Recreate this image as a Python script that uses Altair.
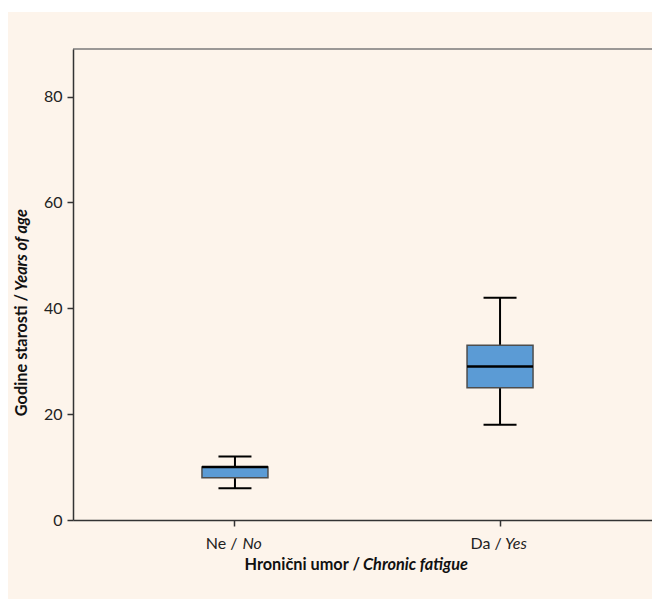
import altair as alt
import pandas as pd

categories = ["Ne", "Da"]
labels_normal = ["Ne /", "Da /"]
labels_italic = ["No", "Yes"]
label_dx_normal = [2.5, 1.7]
label_dx_italic = [7.5, 5.0]
whisker_low = [6, 18]
q1 = [8, 25]
median = [10, 29]
q3 = [10, 33]
whisker_high = [12, 42]
y_ticks = [0, 20, 40, 60, 80]

df = pd.DataFrame({
    "cat": categories,
    "lo": whisker_low,
    "q1": q1,
    "med": median,
    "q3": q3,
    "hi": whisker_high,
    "ln": labels_normal,
    "li": labels_italic,
})

FONT = "Lato"
W, H = 579, 471
RANGE_W = 589

xenc = alt.X(
    "cat:N",
    sort=categories,
    scale=alt.Scale(paddingInner=0, paddingOuter=0.111, range=[0, RANGE_W]),
    axis=alt.Axis(labels=False, title=None, tickSize=6, tickColor="#333",
                  domainColor="#333", domainWidth=1.5, tickWidth=1.5, zindex=1),
)
yscale = alt.Scale(domain=[0, 89], nice=False, zero=True)
yenc_lo = alt.Y(
    "lo:Q",
    scale=yscale,
    axis=alt.Axis(values=y_ticks, title=None, grid=False, tickSize=6,
                  tickColor="#333", tickWidth=1.5, domainColor="#333",
                  domainWidth=1.5, labelFont=FONT, labelFontSize=16,
                  labelColor="#222", labelPadding=5, zindex=1),
)

base = alt.Chart(df)

title_df = pd.DataFrame({"t": ["x"]})
tb = alt.Chart(title_df)

bg = tb.mark_rect(color="#fdf4eb").encode(
    x=alt.value(-65), x2=alt.value(RANGE_W), y=alt.value(-37), y2=alt.value(560)
)
top_line = tb.mark_rule(color="#7a7a7a", strokeWidth=1.5).encode(
    x=alt.value(0), x2=alt.value(RANGE_W), y=alt.value(0)
)

whisker = base.mark_rule(color="black", strokeWidth=2).encode(
    x=xenc, y=yenc_lo, y2="hi:Q"
)
cap_lo = base.mark_tick(color="black", thickness=2, size=33, opacity=1).encode(
    x=xenc, y=alt.Y("lo:Q", scale=yscale)
)
cap_hi = base.mark_tick(color="black", thickness=2, size=33, opacity=1).encode(
    x=xenc, y=alt.Y("hi:Q", scale=yscale)
)
box = base.mark_bar(size=66, fill="#5b9bd5", stroke="#4d4d4d", strokeWidth=1.5).encode(
    x=xenc, y=alt.Y("q1:Q", scale=yscale), y2="q3:Q"
)
med = base.mark_tick(color="black", thickness=2.5, size=66, opacity=1).encode(
    x=xenc, y=alt.Y("med:Q", scale=yscale)
)

layers = [bg, top_line, whisker, cap_lo, cap_hi, box, med]

for i, c in enumerate(categories):
    sub = base.transform_filter(alt.datum.cat == c)
    layers.append(
        sub.mark_text(font=FONT, fontSize=16, color="#222", align="right",
                      baseline="alphabetic", dx=label_dx_normal[i]).encode(
            x=xenc, y=alt.value(500), text="ln:N"
        )
    )
    layers.append(
        sub.mark_text(font=FONT, fontSize=16, color="#222", align="left",
                      baseline="alphabetic", fontStyle="italic",
                      dx=label_dx_italic[i]).encode(
            x=xenc, y=alt.value(500), text="li:N"
        )
    )

x_title_a = tb.mark_text(font=FONT, fontSize=16.3, fontWeight="bold", color="#111",
                         align="right", baseline="alphabetic",
                         text="Hronični umor /").encode(
    x=alt.value(287), y=alt.value(521)
)
x_title_b = tb.mark_text(font=FONT, fontSize=16.3, fontWeight="bold", fontStyle="italic",
                         color="#111", align="left", baseline="alphabetic",
                         text="Chronic fatigue").encode(
    x=alt.value(290), y=alt.value(521)
)
y_title_a = tb.mark_text(font=FONT, fontSize=16.3, fontWeight="bold", color="#111",
                         align="right", baseline="alphabetic", angle=270,
                         text="Godine starosti /").encode(
    x=alt.value(-46.5), y=alt.value(245)
)
y_title_b = tb.mark_text(font=FONT, fontSize=16.3, fontWeight="bold", fontStyle="italic",
                         color="#111", align="left", baseline="alphabetic", angle=270,
                         text="Years of age").encode(
    x=alt.value(-46.5), y=alt.value(242)
)
layers += [x_title_a, x_title_b, y_title_a, y_title_b]

chart = alt.layer(*layers).properties(
    width=W,
    height=H,
    autosize=alt.AutoSizeParams(type="none"),
    padding={"left": 65, "top": 41, "right": 0, "bottom": 80},
    background="white",
).configure_view(
    strokeWidth=0
)

chart.save("out.html", embed_options={"renderer": "svg", "actions": False})
